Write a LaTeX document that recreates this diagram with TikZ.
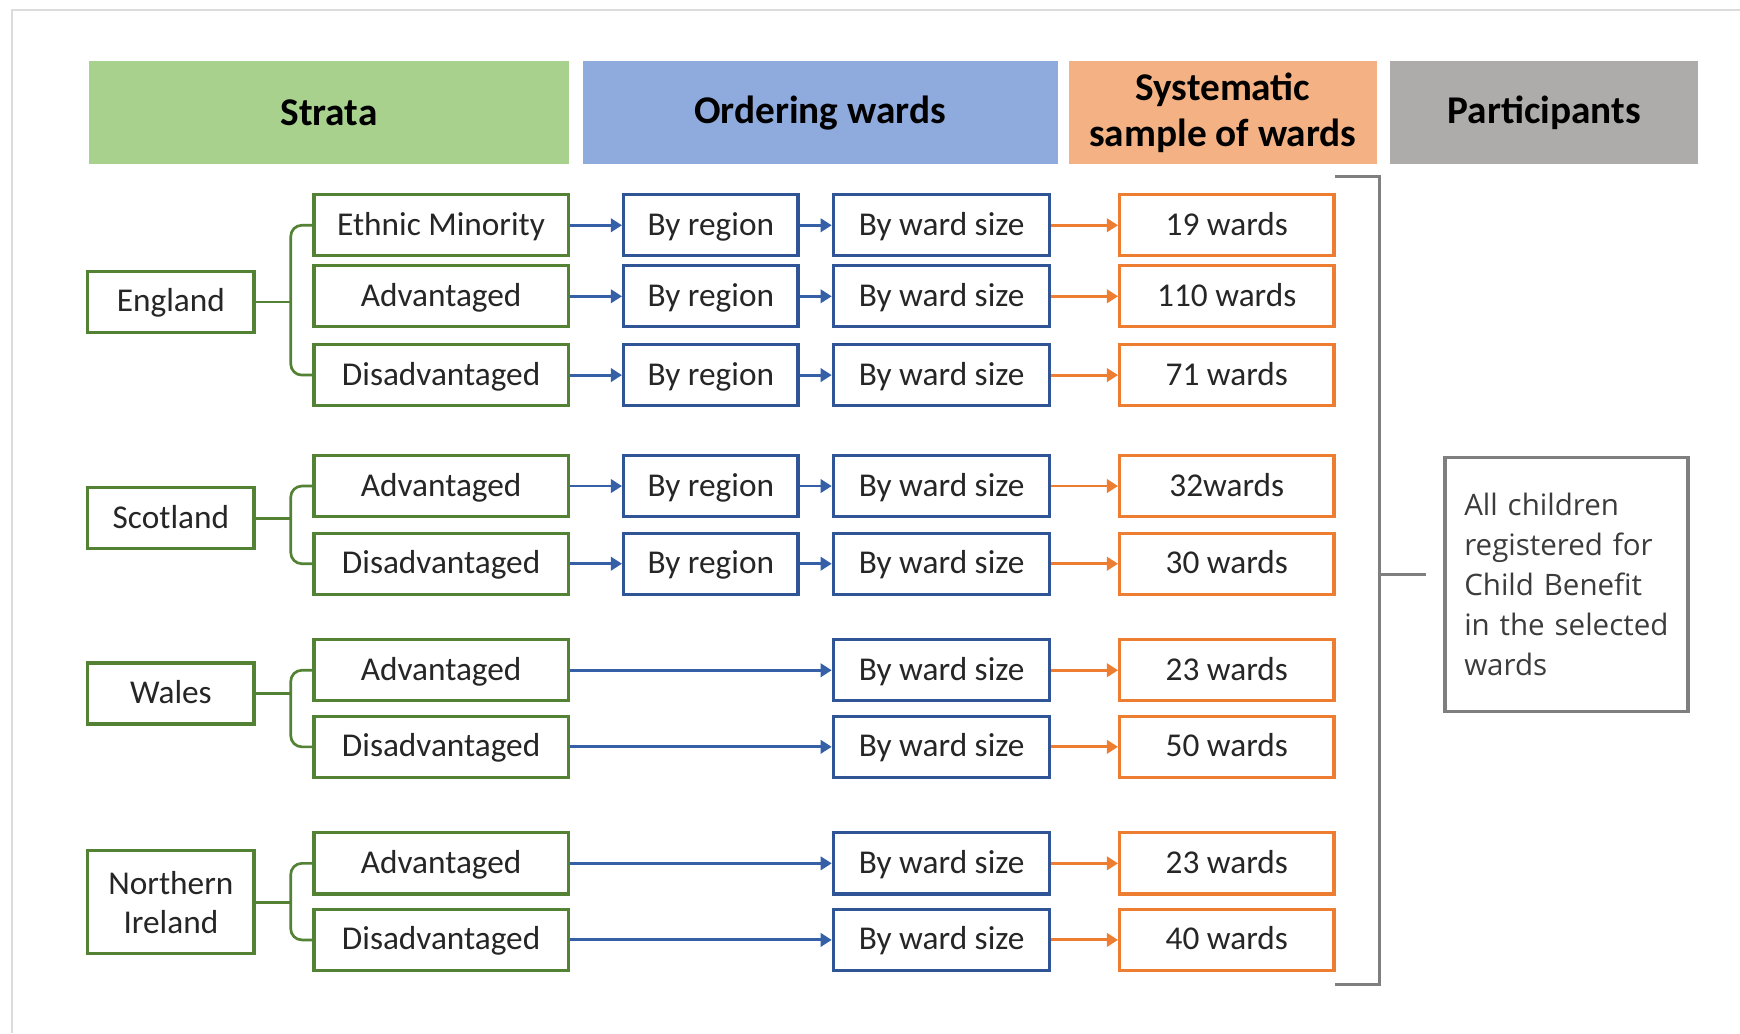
\documentclass[tikz,border=0pt]{standalone}
\usepackage{fontspec}
\setmainfont{Carlito}
\newfontfamily\osans{Open Sans}
\usetikzlibrary{arrows.meta,calc}
\definecolor{gfill}{HTML}{A9D18E}
\definecolor{bfill}{HTML}{8FAADC}
\definecolor{ofill}{HTML}{F4B183}
\definecolor{pfill}{HTML}{AEABAB}
\definecolor{gb}{HTML}{548235}
\definecolor{bb}{HTML}{2F5597}
\definecolor{ba}{HTML}{3560A8}
\definecolor{ob}{HTML}{ED7D31}
\definecolor{gr}{HTML}{7F7F7F}
\definecolor{txt}{HTML}{262626}
\definecolor{framec}{HTML}{DCDCDC}
\begin{document}
\begin{tikzpicture}[x=0.5pt,y=-0.5pt,
 box/.style={draw,line width=1.5pt,fill=white,text=txt,font=\fontsize{15}{17.5}\selectfont,inner sep=0pt,minimum height=27.5pt},
 onel/.style={text height=10.5pt,text depth=1.5pt},
 strat/.style={box,onel,draw=gb,minimum width=114.5pt},
 ctry/.style={box,draw=gb,minimum width=75pt,align=center},
 regbox/.style={box,onel,draw=bb,minimum width=78.5pt},
 sizebox/.style={box,onel,draw=bb,minimum width=97.5pt},
 cntbox/.style={box,onel,draw=ob,minimum width=96.5pt},
 hdr/.style={inner sep=0pt,minimum height=46.5pt,font=\bfseries\fontsize{17.7}{21}\selectfont,align=center,text=black},
 barr/.style={-{Triangle[length=5pt,width=6pt]},line width=1.3pt,draw=ba},
 oarr/.style={-{Triangle[length=5pt,width=6pt]},line width=1.3pt,draw=ob},
 brace/.style={draw=gb,line width=1.2pt,rounded corners=5pt},
 bracket/.style={draw=gr,line width=1.3pt}]
\useasboundingbox (0,0) rectangle (1568,931);
\fill[white] (0,0) rectangle (1568,931);
% frame
\coordinate (f1) at (11,931);
\coordinate (f2) at (11,9);
\coordinate (f3) at (1568,9);
\draw[framec,line width=1pt] (f1) -- (f2) -- (f3);
% headers
\node[hdr,fill=gfill,minimum width=216.5pt] (h1) at (296.5,101.5) {Strata};
\node[hdr,fill=bfill,minimum width=214pt] (h2) at (739,101.5) {Ordering wards};
\node[hdr,fill=ofill,minimum width=139pt] (h3) at (1102,101.5) {Systematic\\sample of wards};
\node[hdr,fill=pfill,minimum width=138.5pt] (h4) at (1391.5,101.5) {Participants};
% countries
\node[ctry,onel] (eng) at (154,272) {England};
\node[ctry,onel] (sco) at (154,467) {Scotland};
\node[ctry,onel] (wal) at (154,625) {Wales};
\node[ctry,minimum height=46.5pt] (nir) at (154,813) {Northern\\Ireland};
% strata
\node[strat] (s1) at (397.5,203) {Ethnic Minority};
\node[strat] (s2) at (397.5,267) {Advantaged};
\node[strat] (s3) at (397.5,338) {Disadvantaged};
\node[strat] (s4) at (397.5,438) {Advantaged};
\node[strat] (s5) at (397.5,508) {Disadvantaged};
\node[strat] (s6) at (397.5,604) {Advantaged};
\node[strat] (s7) at (397.5,673) {Disadvantaged};
\node[strat] (s8) at (397.5,778) {Advantaged};
\node[strat] (s9) at (397.5,847) {Disadvantaged};
% by region
\node[regbox] (r1) at (640.5,203) {By region};
\node[regbox] (r2) at (640.5,267) {By region};
\node[regbox] (r3) at (640.5,338) {By region};
\node[regbox] (r4) at (640.5,438) {By region};
\node[regbox] (r5) at (640.5,508) {By region};
% by ward size
\foreach \i/\y in {1/203,2/267,3/338,4/438,5/508,6/604,7/673,8/778,9/847}
  \node[sizebox] (z\i) at (848.5,\y) {By ward size};
% counts
\node[cntbox] (c1) at (1105.5,203) {19 wards};
\node[cntbox] (c2) at (1105.5,267) {110 wards};
\node[cntbox] (c3) at (1105.5,338) {71 wards};
\node[cntbox] (c4) at (1105.5,438) {32wards};
\node[cntbox] (c5) at (1105.5,508) {30 wards};
\node[cntbox] (c6) at (1105.5,604) {23 wards};
\node[cntbox] (c7) at (1105.5,673) {50 wards};
\node[cntbox] (c8) at (1105.5,778) {23 wards};
\node[cntbox] (c9) at (1105.5,847) {40 wards};
% arrows
\foreach \i in {1,...,5} {
  \draw[barr] (s\i.east) -- (r\i.west);
  \draw[barr] (r\i.east) -- (z\i.west);
}
\foreach \i in {6,...,9}
  \draw[barr] (s\i.east) -- (z\i.west);
\foreach \i in {1,...,9}
  \draw[oarr] (z\i.east) -- (c\i.west);
% braces
\coordinate (jE) at (262,272);
\coordinate (jS) at (262,467);
\coordinate (jW) at (262,625);
\coordinate (jN) at (262,813);
\draw[brace] (s1.west) -| (jE) |- (s3.west);
\draw[brace] (eng.east) -- (jE);
\draw[brace] (s4.west) -| (jS) |- (s5.west);
\draw[brace] (sco.east) -- (jS);
\draw[brace] (s6.west) -| (jW) |- (s7.west);
\draw[brace] (wal.east) -- (jW);
\draw[brace] (s8.west) -| (jN) |- (s9.west);
\draw[brace] (nir.east) -- (jN);
% big bracket
\coordinate (bt) at (1203,159);
\coordinate (bb1) at (1243,159);
\coordinate (bb2) at (1243,887);
\coordinate (bbt) at (1203,887);
\coordinate (tk1) at (1243,518);
\coordinate (tk2) at (1285,518);
\draw[bracket] (bt) -- (bb1) -- (bb2) -- (bbt);
\draw[bracket] (tk1) -- (tk2);
% participants
\node[draw=gr,line width=1.5pt,minimum width=109.5pt,minimum height=114.5pt,inner xsep=8.75pt,text width=92pt,align=left,text=txt!90!white,font=\osans\fontsize{13.3}{18}\selectfont] (p) at (1411.5,526.5) {All children\\registered for\\Child Benefit\\in the selected\\wards};
\end{tikzpicture}
\end{document}
